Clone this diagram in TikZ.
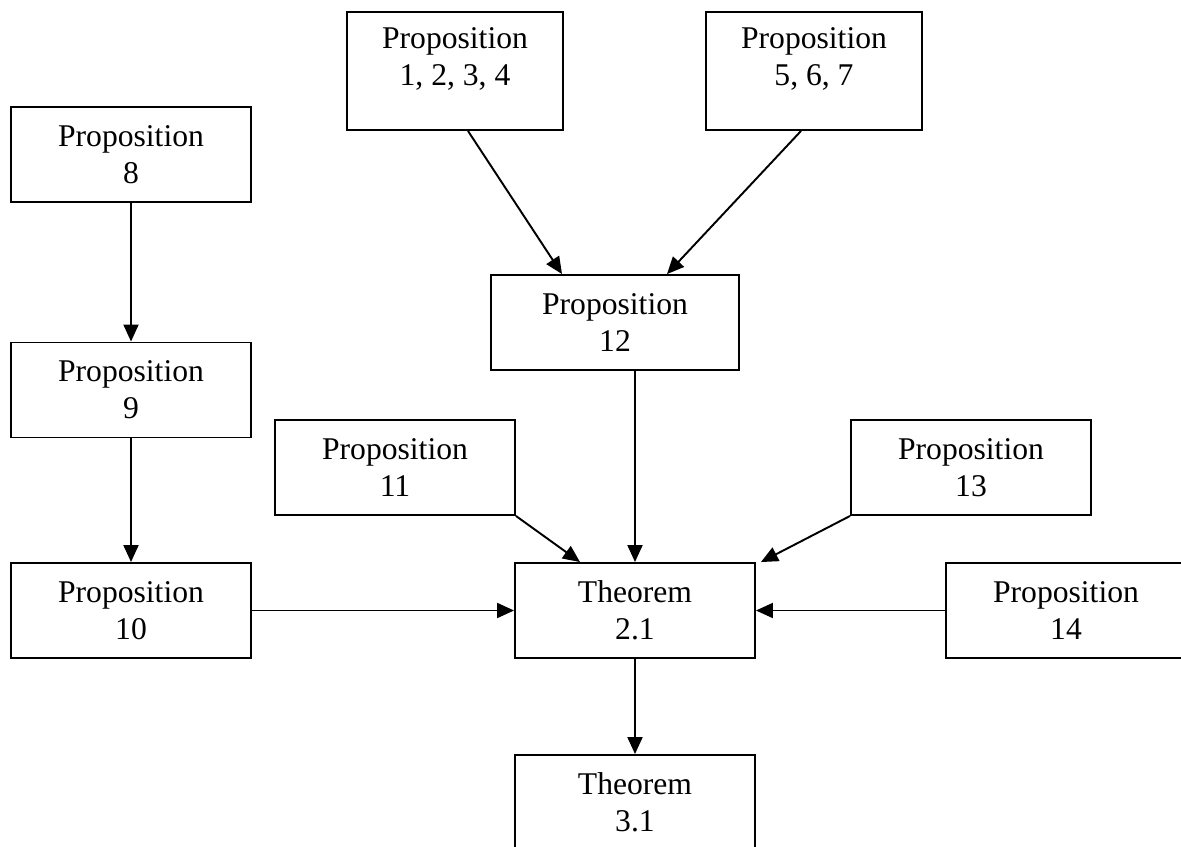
\documentclass[tikz,border=0pt]{standalone}
\usepackage{fontspec}
\setmainfont{Liberation Serif}
\usetikzlibrary{arrows.meta, calc, positioning}

\tikzset{prop/.style={draw, minimum width=4.8cm, minimum height=1.9cm, align=center, inner sep=0pt}}

\begin{document}
\begin{tikzpicture}[x=0.02cm, y=-0.02cm, font=\fontsize{18}{21}\selectfont, line width=1.1pt, >={Triangle[length=0.34cm, width=0.3cm]}]
	\path[use as bounding box, clip] (0,0) rectangle (1181,846);
	% boxes of one size
	\foreach \N/\X/\Y/\W/\T in {p8/131/154.5/Proposition/8,
						  p9/131/390/Proposition/9,
						  p10/131/610.5/Proposition/10,
						  p11/395/467.5/Proposition/11,
						  p13/971/467.5/Proposition/13,
						  p14/1066/610.5/Proposition/14,
						  th21/635/610.5/Theorem/2.1,
						  th31/635/802.5/Theorem/3.1
		} {
		\node[prop](\N) at (\X,\Y) {\W\\\T};
		}
	\node[prop, minimum width=4.96cm](p12) at (615,322.5) {Proposition\\12};
	% the two tall ones, text sits at the top
	\node[prop, minimum width=4.32cm, minimum height=2.36cm](p1to4) at (455,71) {};
	\node[prop, minimum width=4.32cm, minimum height=2.36cm](p5to7) at (814,71) {};
	\node[align=center](p1to4txt) at ([yshift=-0.95cm]p1to4.north) {Proposition\\1, 2, 3, 4};
	\node[align=center](p5to7txt) at ([yshift=-0.95cm]p5to7.north) {Proposition\\5, 6, 7};
	% arrows, one by one
	\draw[->] ([xshift=0.26cm]p1to4.south) -- ([xshift=-1.06cm]p12.north);
	\draw[->] ([xshift=-0.26cm]p5to7.south) -- ([xshift=1.04cm]p12.north);
	\draw[->] (p8) -- (p9);
	\draw[->] (p9) -- (p10);
	\draw[->] (p12.south -| th21.north) -- (th21);
	\draw[->] (p11.south east) -- ([xshift=-1.1cm]th21.north);
	\draw[->] (p13.south west) -- ([xshift=0.1cm]th21.north east);
	\draw[->] (p10) -- (th21);
	\draw[->] (p14) -- (th21);
	\draw[->] (th21) -- (th31);
\end{tikzpicture}
\end{document}
